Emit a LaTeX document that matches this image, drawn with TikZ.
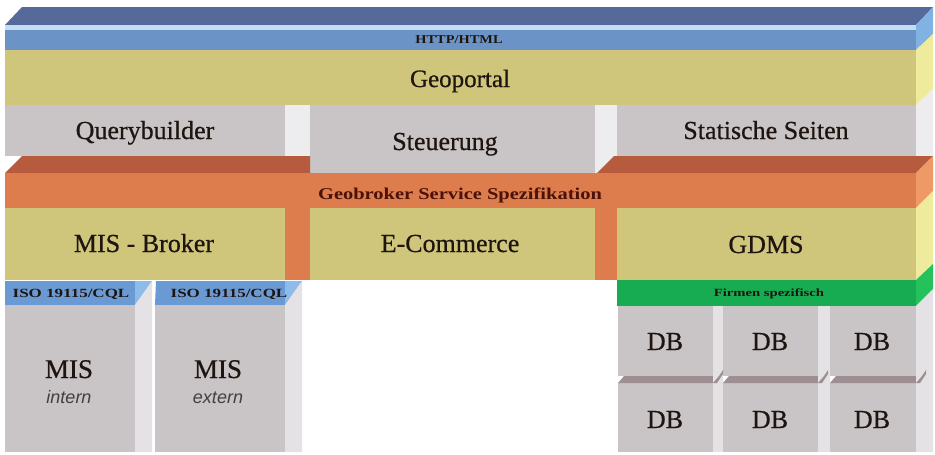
\documentclass[tikz,border=0pt]{standalone}
\usepackage{fontspec}
\usepackage{graphicx}
\setmainfont{Liberation Serif}
\newfontfamily\heavy[FakeBold=0.6]{Liberation Serif}
\newfontfamily\sansit{Liberation Sans}
\definecolor{bluetop}{HTML}{56699B}
\definecolor{bluehi}{HTML}{C4DDF3}
\definecolor{bluefront}{HTML}{6B93C6}
\definecolor{blueside}{HTML}{80B2E3}
\definecolor{khaki}{HTML}{CFC67B}
\definecolor{khakiside}{HTML}{EEEB9C}
\definecolor{grayb}{HTML}{C9C4C5}
\definecolor{grayside}{HTML}{EDECEF}
\definecolor{orangefront}{HTML}{DD7C4C}
\definecolor{orangetop}{HTML}{B65B3D}
\definecolor{orangeside}{HTML}{EF9A66}
\definecolor{greenbar}{HTML}{18AC52}
\definecolor{greenside}{HTML}{26C05C}
\definecolor{isoblue}{HTML}{6A9AD3}
\definecolor{isoside}{HTML}{8DBBEA}
\definecolor{dbdark}{HTML}{9D8F92}
\definecolor{sideg}{HTML}{E4E2E5}
\definecolor{txt}{HTML}{1E1410}
\definecolor{maroon}{HTML}{4A1208}
\begin{document}
\begin{tikzpicture}[x=1pt,y=-1pt,
  lbl/.style={anchor=base, inner sep=0pt, text=txt, font=\heavy\fontsize{26}{26}\selectfont},
  small/.style={anchor=base, inner sep=0pt, text=txt, font=\bfseries},
  itl/.style={anchor=base, inner sep=0pt, text=black!75, font=\sansit\itshape\fontsize{18}{18}\selectfont}]
\useasboundingbox (0,0) rectangle (935,455);
\fill[white] (0,0) rectangle (935,455);
% HTTP/HTML slab
\fill[bluetop] (5,25)--(22,7)--(933,7)--(916,25)--cycle;
\fill[bluehi] (5,25) rectangle (916,30);
\fill[bluefront] (5,30) rectangle (916,50);
\fill[blueside] (916,25)--(933,7)--(933,34)--(916,50)--cycle;
% Geoportal
\fill[khaki] (5,50) rectangle (916,105);
\fill[khakiside] (916,50)--(933,34)--(933,89)--(916,105)--cycle;
% gray row
\fill[grayb] (5,105) rectangle (285,156);
\fill[grayside] (285,105) rectangle (310,156);
\fill[grayb] (310,105) rectangle (595,173);
\fill[grayside] (595,105)--(617,105)--(617,156)--(597,173)--(595,173)--cycle;
\fill[grayb] (617,105) rectangle (916,156);
\fill[grayside] (916,105)--(933,89)--(933,156)--(916,156)--cycle;
% orange layer
\fill[orangetop] (5,173)--(22,156)--(310,156)--(310,173)--cycle;
\fill[orangetop] (597,173)--(614,156)--(933,156)--(916,173)--cycle;
\fill[orangefront] (5,173) rectangle (916,208);
\fill[orangeside] (916,173)--(933,156)--(933,191)--(916,208)--cycle;
\fill[orangefront] (285,208) rectangle (310,280);
\fill[orangefront] (595,208) rectangle (617,280);
% yellow row
\fill[khaki] (5,208) rectangle (285,280);
\fill[khaki] (310,208) rectangle (595,280);
\fill[khaki] (617,208) rectangle (916,280);
\fill[khakiside] (916,208)--(933,191)--(933,264)--(916,280)--cycle;
% green bar
\fill[greenbar] (617,280) rectangle (916,306);
\fill[greenside] (916,280)--(933,264)--(933,289)--(916,306)--cycle;
% ISO bars
\fill[isoblue] (5,281)--(152,281)--(135,305)--(5,305)--cycle;
\fill[isoside] (135,281)--(152,281)--(135,305)--cycle;
\fill[isoblue] (156,281)--(302,281)--(285,305)--(155,305)--cycle;
\fill[isoside] (285,281)--(302,281)--(285,305)--cycle;
% MIS boxes
\fill[grayb] (5,305) rectangle (135,452);
\fill[sideg] (135,305)--(152,281)--(152,452)--(135,452)--cycle;
\fill[grayb] (155,305) rectangle (285,452);
\fill[sideg] (285,305)--(302,281)--(302,452)--(285,452)--cycle;
% DB boxes
\foreach \xa/\xb in {618/713, 723/818, 830/916} {
  \fill[grayb] (\xa,306) rectangle (\xb,376);
  \fill[grayb] (\xa,383) rectangle (\xb,452);
  \fill[dbdark] (\xa,383)--(\xa+6,376)--(\xb+6,376)--(\xb,383)--cycle;
}
\fill[sideg] (713,306) rectangle (723,452);
\fill[sideg] (818,306) rectangle (830,452);
\fill[sideg] (916,306)--(933,289)--(933,452)--(916,452)--cycle;
\foreach \xb in {713, 818, 916} {
  \fill[dbdark] (\xb,383)--(\xb+6,376)--(\xb+10,370)--(\xb+10,374)--(\xb+4,383)--cycle;
}
% labels
\node[small, font=\bfseries\fontsize{12}{12}\selectfont] (http) at (459,43) {\scalebox{1.2}[1]{HTTP/HTML}};
\node[lbl, font=\heavy\fontsize{25}{25}\selectfont] (geoportal) at (460,87) {Geoportal};
\node[lbl] (qb) at (145,139) {Querybuilder};
\node[lbl] (steu) at (445,150) {Steuerung};
\node[lbl] (stat) at (766,139) {Statische Seiten};
\node[small, text=maroon, font=\bfseries\fontsize{16.5}{16.5}\selectfont] (gbs) at (460,199) {\scalebox{1.24}[1]{Geobroker Service Spezifikation}};
\node[lbl] (misb) at (144,252) {MIS - Broker};
\node[lbl] (ecom) at (450,252) {E-Commerce};
\node[lbl] (gdms) at (766,253) {GDMS};
\node[small, font=\bfseries\fontsize{12.5}{12.5}\selectfont] (iso1) at (71,297) {\scalebox{1.36}[1]{ISO 19115/CQL}};
\node[small, font=\bfseries\fontsize{12.5}{12.5}\selectfont] (iso2) at (229,297) {\scalebox{1.36}[1]{ISO 19115/CQL}};
\node[small, font=\bfseries\fontsize{11}{11}\selectfont] (firm) at (769,296) {\scalebox{1.33}[1]{Firmen spezifisch}};
\node[lbl, font=\heavy\fontsize{27}{27}\selectfont] (mis1) at (69,378) {MIS};
\node[itl] (intern) at (69,403) {intern};
\node[lbl, font=\heavy\fontsize{27}{27}\selectfont] (mis2) at (218,378) {MIS};
\node[itl] (extern) at (218,403) {extern};
\node[lbl] (db11) at (665,350) {DB};
\node[lbl] (db12) at (770,350) {DB};
\node[lbl] (db13) at (872,350) {DB};
\node[lbl] (db21) at (665,428) {DB};
\node[lbl] (db22) at (770,428) {DB};
\node[lbl] (db23) at (872,428) {DB};
\end{tikzpicture}
\end{document}
